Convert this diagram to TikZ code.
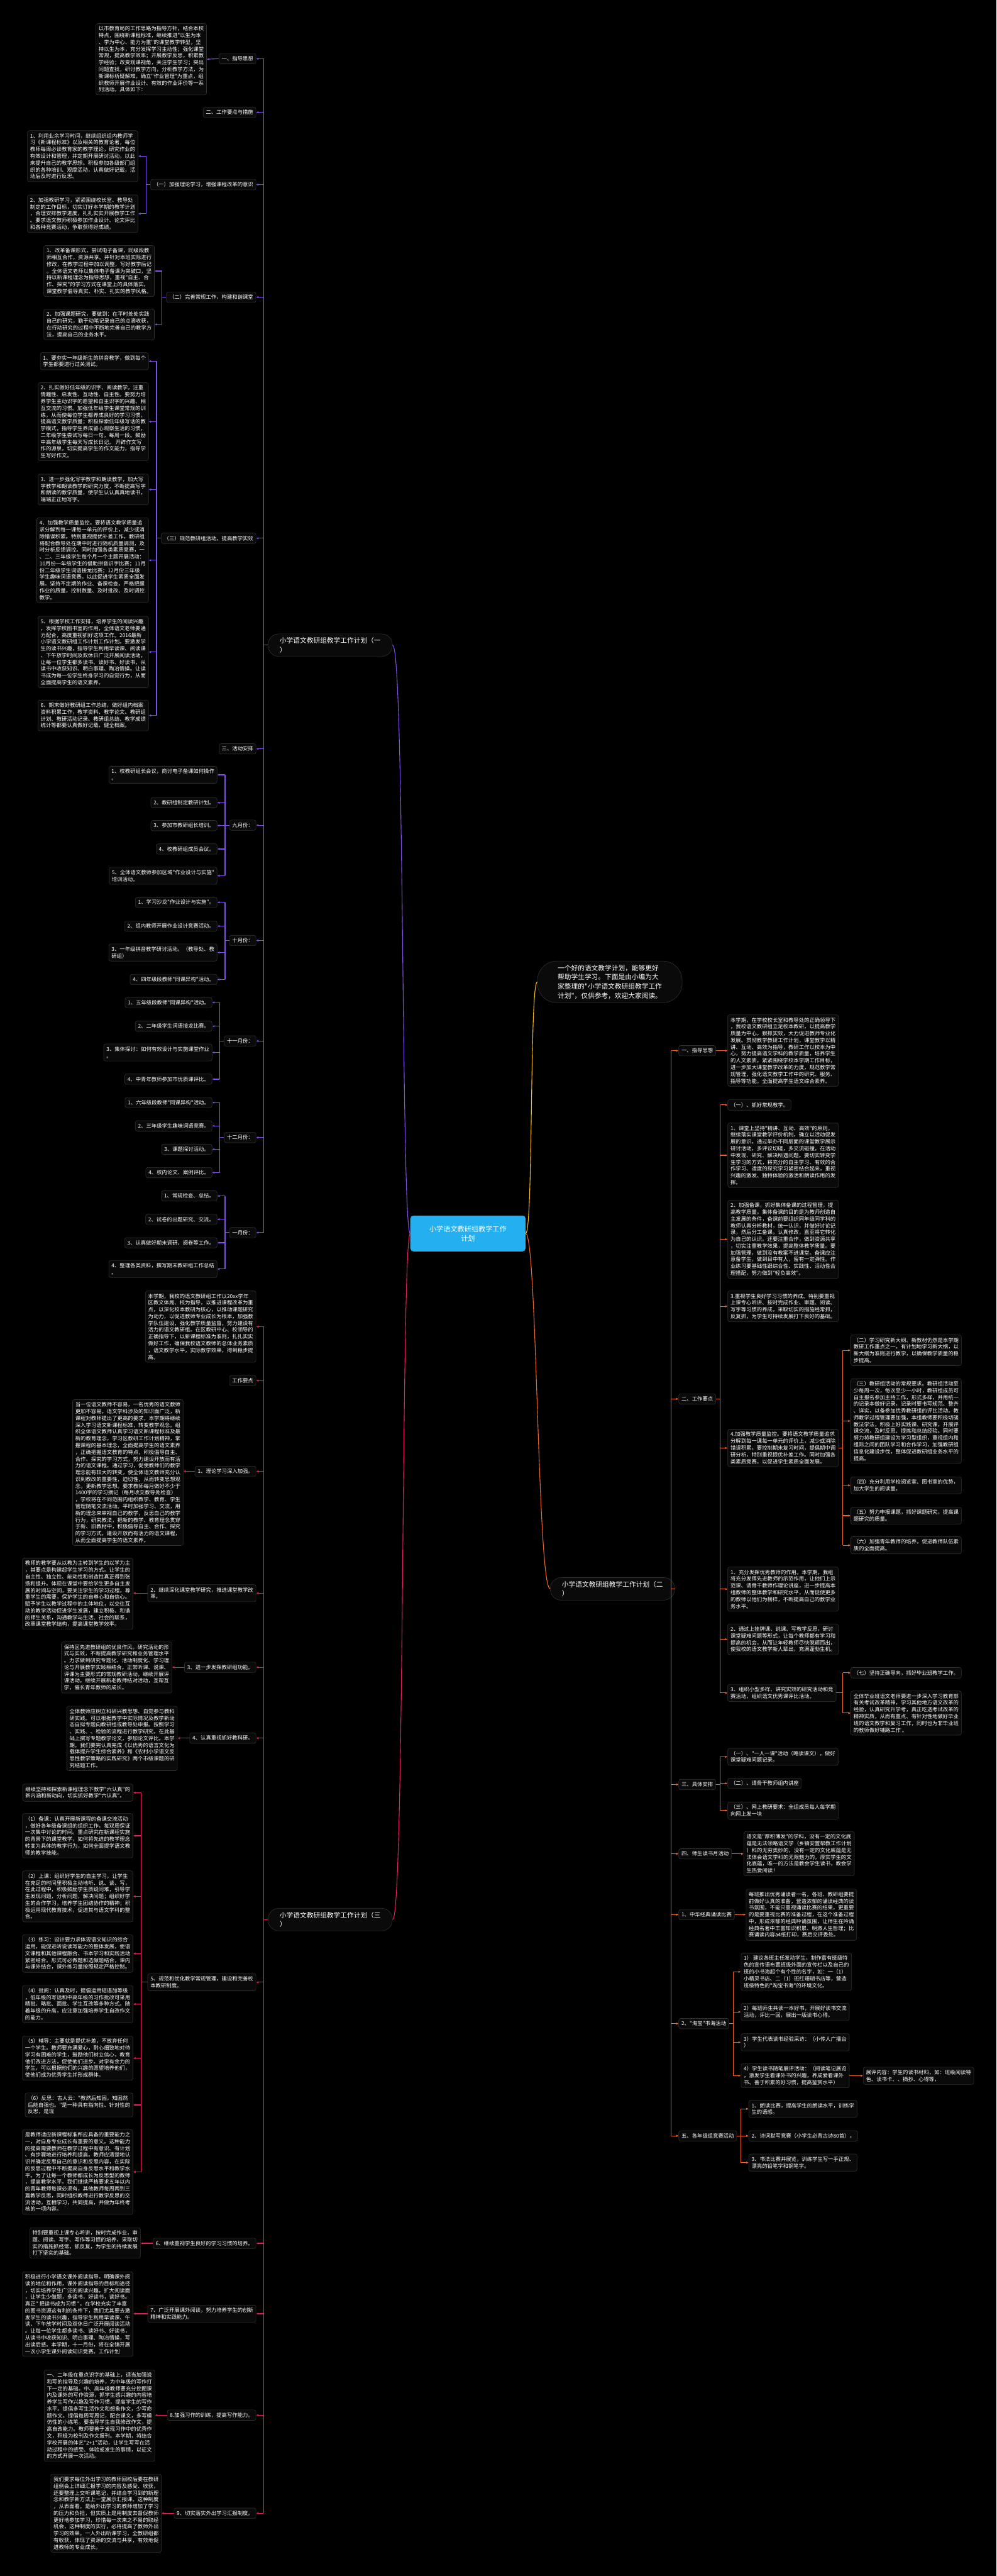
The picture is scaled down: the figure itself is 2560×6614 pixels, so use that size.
\documentclass[tikz,border=0pt]{standalone}
\usepackage{fontspec}
\newfontfamily\cjk{Noto Sans CJK SC}
\usetikzlibrary{arrows.meta}
\definecolor{purp}{RGB}{128,78,232}
\definecolor{pinkc}{RGB}{232,28,98}
\definecolor{orng}{RGB}{240,100,40}
\definecolor{goldc}{RGB}{245,185,20}
\definecolor{boxbd}{RGB}{48,48,48}
\definecolor{boxfl}{RGB}{10,10,10}
\definecolor{rootc}{RGB}{36,176,240}
\tikzset{
 tbox/.style={draw=boxbd, fill=boxfl, rounded corners=5pt, line width=1pt, text=white, font=\cjk\fontsize{13.5}{17.4}\selectfont, align=left, inner xsep=7pt, inner ysep=7pt},
 pillbox/.style={draw=boxbd, fill=boxfl, rounded corners=28pt, line width=1pt, text=white, font=\cjk\fontsize{17.3}{23.5}\selectfont, align=left, inner xsep=30pt, inner ysep=9pt},
 rootbox/.style={fill=rootc, rounded corners=8pt, text=white, font=\cjk\fontsize{18}{24}\selectfont, align=center, inner xsep=14pt, inner ysep=12pt},
 link/.style={line width=1.8pt},
 arr/.style={line width=1.8pt,-{Latex[length=6pt,width=6pt]}},
}
\begin{document}
\begin{tikzpicture}[x=1pt,y=-1pt]
\fill[black] (0,0) rectangle (2560,6614);
\useasboundingbox (0,0) rectangle (2560,6614);

% ================= ROOT =================
\node[rootbox,minimum width=296pt,minimum height=92pt] (R) at (1202,3167) {小学语文教研组教学工作\\计划};

% ================= (一) =================
\node[pillbox,anchor=north west] (P1) at (688,1627) {小学语文教研组教学工作计划（一\\）};
\node[tbox,anchor=north east] (A1) at (658,137) {一、指导思想};
\node[tbox,anchor=north east] (A1t) at (531,60) {以市教育局的工作思路为指导方针，结合本校\\特点，围绕新课程标准，继续推进"以生为本\\、学为中心、能力为重"的课堂教学转型，坚\\持以生为本，充分发挥学习主动性；强化课堂\\常规，提高教学效率；开展教学反思，积累教\\学经验；改变观课视角，关注学生学习；突出\\问题查找，研讨教学方向，分析教学方法，为\\新课标析疑解难。确立"作业管理"为重点，组\\织教师开展作业设计、有效的作业评价等一系\\列活动。具体如下：};
\node[tbox,anchor=north east] (A2) at (658,275) {二、工作要点与措施};
\node[tbox,anchor=north east] (A3) at (658,460) {（一）加强理论学习，增强课程改革的意识};
\node[tbox,anchor=north east] (A31) at (355,335) {1、利用业余学习时间，继续组织组内教师学\\习《新课程标准》以及相关的教育论著，每位\\教师每周必读教育家的教学理论，研究作业的\\有效设计和管理，并定期开展研讨活动，以此\\来提升自己的教学思想。积极参加各级部门组\\织的各种培训、观摩活动，认真做好记载，活\\动后及时进行反思。};
\node[tbox,anchor=north east] (A32) at (355,500) {2、加强教研学习，紧紧围绕校长室、教导处\\制定的工作目标，切实订好本学期的教学计划\\，合理安排教学进度，扎扎实实开展教学工作\\。要求语文教师积极参加作业设计、论文评比\\和各种竞赛活动，争取获得好成绩。};
\node[tbox,anchor=north east] (A4) at (658,749) {（二）完善常规工作，构建和谐课堂};
\node[tbox,anchor=north east] (A41) at (397,630) {1、改革备课形式，尝试电子备课，同级段教\\师相互合作，资源共享。并针对本班实际进行\\修改，在教学过程中加以调整，写好教学后记\\。全体语文老师以集体电子备课为突破口，坚\\持以新课程理念为指导思想，重视"自主、合\\作、探究"的学习方式在课堂上的具体落实。\\课堂教学倡导真实、朴实、扎实的教学风格。};
\node[tbox,anchor=north east] (A42) at (397,793) {2、加强课题研究，要做到：在平时处处实践\\自己的研究，勤于动笔记录自己的点滴收获，\\在行动研究的过程中不断地完善自己的教学方\\法，提高自己的业务水平。};
\node[tbox,anchor=north east] (A5) at (658,1368) {（三）规范教研组活动，提高教学实效};
\node[tbox,anchor=north east] (A51) at (382,905) {1、要夯实一年级新生的拼音教学，做到每个\\学生都要进行过关测试。};
\node[tbox,anchor=north east] (A52) at (382,982) {2、扎实做好低年级的识字、阅读教学，注重\\情趣性、启发性、互动性、自主性。要努力培\\养学生主动识字的愿望和自主识字的兴趣、相\\互交流的习惯。加强低年级学生课堂常规的训\\练，从而使每位学生都养成良好的学习习惯，\\提高语文教学质量；积极探索低年级写话的教\\学模式，指导学生养成留心观察生活的习惯，\\二年级学生尝试写每日一句，每周一段。鼓励\\中高年级学生每天写成长日记。 开辟作文写\\作的源泉，切实提高学生的作文能力，指导学\\生写好作文。};
\node[tbox,anchor=north east] (A53) at (382,1217) {3、进一步强化写字教学和朗读教学，加大写\\字教学和朗读教学的研究力度，不断提高写字\\和朗读的教学质量，使学生认认真真地读书，\\端端正正地写字。};
\node[tbox,anchor=north east] (A54) at (382,1329) {4、加强教学质量监控。要将语文教学质量追\\求分解到每一课每一单元的评价上，减少或消\\除错误积累。特别重视提优补差工作。教研组\\将配合教导处在期中时进行随机质量调测，及\\时分析反馈调控。同时加强各类素质竞赛，一\\、二、三年级学生每个月一个主题开展活动：\\10月份一年级学生的借助拼音识字比赛；11月\\份二年级学生词语接龙比赛；12月份三年级\\学生趣味词语竞赛。以此促进学生素质全面发\\展。坚持不定期的作业、备课检查。严格把握\\作业的质量，控制数量、及时批改、及时调控\\教学。};
\node[tbox,anchor=north east] (A55) at (382,1582) {5、根据学校工作安排，培养学生的阅读兴趣\\，发挥学校图书室的作用，全体语文老师要通\\力配合，高度重视抓好这项工作。2016最新\\小学语文教研组工作计划工作计划。要激发学\\生的读书兴趣，指导学生利用早读课、阅读课\\、下午放学时间及双休日广泛开展阅读活动。\\让每一位学生都多读书、读好书、好读书，从\\读书中收获知识、明白事理、陶冶情操。让读\\书成为每一位学生终身学习的自觉行为，从而\\全面提高学生的语文素养。};
\node[tbox,anchor=north east] (A56) at (382,1797) {6、期末做好教研组工作总结，做好组内档案\\资料积累工作，教学资料、教学论文、教研组\\计划、教研活动记录、教研组总结、教学成绩\\统计等都要认真做好记载，健全档案。};
\node[tbox,anchor=north east] (A6) at (658,1909) {三、活动安排};
\node[tbox,anchor=north east] (A7) at (658,2105) {九月份：};
\node[tbox,anchor=north east] (A71) at (558,1967) {1、校教研组长会议，商讨电子备课如何操作\\。};
\node[tbox,anchor=north east] (A72) at (558,2047) {2、教研组制定教研计划。};
\node[tbox,anchor=north east] (A73) at (558,2106) {3、参加市教研组长培训。};
\node[tbox,anchor=north east] (A74) at (558,2166) {4、校教研组成员会议。};
\node[tbox,anchor=north east] (A75) at (558,2226) {5、全体语文教师参加区域"作业设计与实施"\\培训活动。};
\node[tbox,anchor=north east] (A8) at (658,2401) {十月份：};
\node[tbox,anchor=north east] (A81) at (558,2303) {1、学习沙龙"作业设计与实施"。};
\node[tbox,anchor=north east] (A82) at (558,2364) {2、组内教师开展作业设计竞赛活动。};
\node[tbox,anchor=north east] (A83) at (558,2423) {3、一年级拼音教学研讨活动。（教导处、教\\研组）};
\node[tbox,anchor=north east] (A84) at (558,2501) {4、四年级段教师"同课异构"活动。};
\node[tbox,anchor=north east] (A9) at (658,2659) {十一月份：};
\node[tbox,anchor=north east] (A91) at (545,2560) {1、五年级段教师"同课异构"活动。};
\node[tbox,anchor=north east] (A92) at (545,2621) {2、二年级学生词语接龙比赛。};
\node[tbox,anchor=north east] (A93) at (545,2680) {3、集体探讨：如何有效设计与实施课堂作业\\。};
\node[tbox,anchor=north east] (A94) at (545,2757) {4、中青年教师参加市优质课评比。};
\node[tbox,anchor=north east] (A10) at (658,2907) {十二月份：};
\node[tbox,anchor=north east] (A101) at (545,2817) {1、六年级段教师"同课异构"活动。};
\node[tbox,anchor=north east] (A102) at (545,2877) {2、三年级学生趣味词语竞赛。};
\node[tbox,anchor=north east] (A103) at (545,2937) {3、课题探讨活动。};
\node[tbox,anchor=north east] (A104) at (545,2997) {4、校内论文、案例评比。};
\node[tbox,anchor=north east] (A11) at (658,3151) {一月份：};
\node[tbox,anchor=north east] (A111) at (558,3057) {1、常规检查、总结。};
\node[tbox,anchor=north east] (A112) at (558,3117) {2、试卷的出题研究、交流。};
\node[tbox,anchor=north east] (A113) at (558,3177) {3、认真做好期末调研、阅卷等工作。};
\node[tbox,anchor=north east] (A114) at (558,3236) {4、整理各类资料，撰写期末教研组工作总结\\。};

\coordinate (mA) at (677,0);
\coordinate (bA3) at (376,0);
\coordinate (bA4) at (416,0);
\coordinate (bA5) at (402,0);
\coordinate (bA7) at (578,0);
\coordinate (bA9) at (564,0);
\begin{scope}[purp]
\draw[link] (mA |- A1.east) -- (mA |- A11.east);
\foreach \n in {A1,A2,A3,A4,A5,A6,A7,A8,A9,A10,A11} \draw[arr] (mA |- \n.east) -- (\n.east);
\draw[link] (mA |- P1.west) -- (P1.west);
\draw[arr] (A1.west) -- (A1t.east);
\draw[link] (A3.west) -- (bA3 |- A3.west);
\draw[link] (bA3 |- A31.east) -- (bA3 |- A32.east);
\foreach \n in {A31,A32} \draw[arr] (bA3 |- \n.east) -- (\n.east);
\draw[link] (A4.west) -- (bA4 |- A4.west);
\draw[link] (bA4 |- A41.east) -- (bA4 |- A42.east);
\foreach \n in {A41,A42} \draw[arr] (bA4 |- \n.east) -- (\n.east);
\draw[link] (A5.west) -- (bA5 |- A5.west);
\draw[link] (bA5 |- A51.east) -- (bA5 |- A56.east);
\foreach \n in {A51,A52,A53,A54,A55,A56} \draw[arr] (bA5 |- \n.east) -- (\n.east);
\draw[link] (A7.west) -- (bA7 |- A7.west);
\draw[link] (bA7 |- A71.east) -- (bA7 |- A75.east);
\foreach \n in {A71,A72,A73,A74,A75} \draw[arr] (bA7 |- \n.east) -- (\n.east);
\draw[link] (A8.west) -- (bA7 |- A8.west);
\draw[link] (bA7 |- A81.east) -- (bA7 |- A84.east);
\foreach \n in {A81,A82,A83,A84} \draw[arr] (bA7 |- \n.east) -- (\n.east);
\draw[link] (A9.west) -- (bA9 |- A9.west);
\draw[link] (bA9 |- A91.east) -- (bA9 |- A94.east);
\foreach \n in {A91,A92,A93,A94} \draw[arr] (bA9 |- \n.east) -- (\n.east);
\draw[link] (A10.west) -- (bA9 |- A10.west);
\draw[link] (bA9 |- A101.east) -- (bA9 |- A104.east);
\foreach \n in {A101,A102,A103,A104} \draw[arr] (bA9 |- \n.east) -- (\n.east);
\draw[link] (A11.west) -- (bA7 |- A11.west);
\draw[link] (bA7 |- A111.east) -- (bA7 |- A114.east);
\foreach \n in {A111,A112,A113,A114} \draw[arr] (bA7 |- \n.east) -- (\n.east);
\end{scope}

% ================= (三) =================
\node[pillbox,anchor=north west] (P3) at (688,4899) {小学语文教研组教学工作计划（三\\）};
\node[tbox,anchor=north east] (B1) at (658,3314) {本学期，我校的语文教研组工作以20xx学年\\区教文体局、校为指导，以推进课程改革为重\\点，以深化校本教研为核心，以推动课题研究\\为动力，以促进教师专业成长为根本，加强教\\学队伍建设，强化教学质量监督，努力建设有\\活力的语文教研组。在区教研中心、校领导的\\正确指导下，以新课程标准为准则，扎扎实实\\做好工作，确保我校语文教师的总体业务素质\\，语文教学水平，实际教学效果，得到稳步提\\高。};
\node[tbox,anchor=north east] (B2) at (658,3531) {工作要点};
\node[tbox,anchor=north east] (B3) at (658,3764) {1、理论学习深入加强。};
\node[tbox,anchor=north east] (B3t) at (471,3593) {当一位语文教师不容易，一名优秀的语文教师\\更加不容易。语文学科涉及的知识面广泛，新\\课程对教师提出了更高的要求，本学期将继续\\深入学习语文新课程标准，转变教学观念。组\\织全体语文教师认真学习语文新课程标准及最\\新的教育理念，学习区教研工作计划精神，掌\\握课程的基本理念，全面提高学生的语文素养\\，正确把握语文教育的特点，积极倡导自主、\\合作、探究的学习方式，努力建设开放而有活\\力的语文课程。通过学习，促使教师们的教学\\理念能有较大的转变，使全体语文教师充分认\\识到教改的重要性，迫切性，从而转变思想观\\念，更新教学思想。要求教师每月做好不少于\\1400字的学习摘记（每月收交教导处检查）\\，学校将在不同范围内组织教学、教育、学生\\管理随笔交流活动。平时加强学习、交流，用\\新的理念来审视自己的教学，反思自己的教学\\行为，研究教法，把新的教学、教育理念贯穿\\于新、旧教材中，积极倡导自主、合作、探究\\的学习方式，建设开放而有活力的语文课程，\\从而全面提高学生的语文素养。};
\node[tbox,anchor=north east] (B4) at (658,4068) {2、继续深化课堂教学研究，推进课堂教学改\\革。};
\node[tbox,anchor=north east] (B4t) at (342,4000) {教师的教学要从以教为主转到学生的以学为主\\，其要点是构建起学生学习的方式。让学生的\\自主性、独立性、能动性和创造性真正得到张\\扬和提升。体现在课堂中要给学生更多自主发\\展的时间与空间，要关注学生的学习过程，尊\\重学生的需要，保护学生的自尊心和自信心。\\赋予学生以教学过程中的主体地位，以交往互\\动的教学活动促进学生发展，建立积极、和谐\\的师生关系，沟通教学与生活、社会的联系，\\改革课堂教学结构，提高课堂教学效率。};
\node[tbox,anchor=north east] (B5) at (658,4267) {3、进一步发挥教研组功能。};
\node[tbox,anchor=north east] (B5t) at (442,4215) {保持区先进教研组的优良作风。研究活动的形\\式与实效，不断提高教学研究和业务管理水平\\。力求做到研究专题化、活动制度化、学习理\\论与开展教学实践相结合。正常听课、说课、\\评课为主要形式的常规教研活动，继续开展评\\课活动，继续开展新老教师结对活动，互帮互\\学，催长青年教师的成长。};
\node[tbox,anchor=north east] (B6) at (658,4449) {4、认真重视抓好教科研。};
\node[tbox,anchor=north east] (B6t) at (456,4380) {全体教师应树立科研兴教思想、自觉参与教科\\研实践。可以根据教学中实际情况及教学新动\\态自拟专题向教研组或教导处申报。按照学习\\、实践、、检验的流程进行教学研究。在此基\\础上撰写专题教学论文，参加论文评比。本学\\期，我们要完认真完成《以优秀的语言文化为\\载体提升学生综合素养》和《农村小学语文反\\思性教学策略的实践研究》两个市级课题的研\\究结题工作。};
\node[tbox,anchor=north east] (B7) at (658,5067) {5、规范和优化教学常规管理，建设和完善校\\本教研制度。};
\node[tbox,anchor=north east] (B71) at (342,4580) {继续坚持和探索新课程理念下教学"六认真"的\\新内涵和新动向，切实抓好教学"六认真"。};
\node[tbox,anchor=north east] (B72) at (342,4656) {（1）备课：认真开展新课程的备课交流活动\\，做好各年级备课组的组织工作，每双周保证\\一次集中讨论的时间。重点研究在新课程实施\\的背景下的课堂教学，如何将先进的教学理念\\转变为具体的教学行为，如何全面提学语文教\\师的教学技能。};
\node[tbox,anchor=north east] (B73) at (342,4803) {（2）上课：组织好学生的自主学习，让学生\\在充足的时间里积极主动地听、说、读、写，\\在此过程中，积极鼓励学生质疑问难，引导学\\生发现问题，分析问题，解决问题；组织好学\\生的合作学习，培养学生团结协作的精神；积\\极运用现代教育技术，促进其与语文学科的整\\合。};
\node[tbox,anchor=north east] (B74) at (342,4967) {（3）练习：设计要力求体现语文知识的综合\\运用，能促进听说读写能力的整体发展，使语\\文课程和其他课程融合、书本学习和实践活动\\紧密结合。形式可必做题和选做题结合，课内\\与课外结合，课外练习量按照规定严格控制。};
\node[tbox,anchor=north east] (B75) at (342,5097) {（4）批阅：认真及时，提倡运用短语加等级\\，低年级的写话和中高年级的习作批改可采用\\精批、略批、面批、学生互改等多种方式。随\\着年级的升高，应注意加强培养学生自改作文\\的能力。};
\node[tbox,anchor=north east] (B76) at (342,5227) {（5）辅导：主要就是提优补差，不放弃任何\\一个学生。教师要充满爱心，耐心细致地对待\\学习有困难的学生，鼓励他们树立信心，教育\\他们改进方法，促使他们进步。对学有余力的\\学生，可以根据他们的兴趣的愿望培养他们，\\使他们成为优秀学生并形成群体。};
\node[tbox,anchor=north east] (B77) at (342,5373) {（6）反思：古人云："教然后知困，知困然\\后能自强也。"是一种具有指向性、针对性的\\反思，是现};
\node[tbox,anchor=north east] (B78) at (342,5467) {是教师适应新课程标准所应具备的重要能力之\\一，对自身专业成长有重要的意义。这种能力\\的提高需要教师在教学过程中有意识、有计划\\、有步骤地进行培养和提高。教师应清楚地认\\识并确定反思自己的意识和反思内容，在实际\\的反思过程中不断提高自身反思水平和教学水\\平。为了让每一个教师都成长为反思型的教师\\，提高教学水平。我们继续严格要求五年以内\\的青年教师每课必须有，其他教师每周两到三\\篇教学反思，同时组织教师进行教学反思的交\\流活动，互相学习，共同提高，并做为年终考\\核的一项内容。};
\node[tbox,anchor=north east] (B8) at (658,5746) {6、继续重视学生良好的学习习惯的培养。};
\node[tbox,anchor=north east] (B8t) at (361,5719) {特别要重视上课专心听讲，按时完成作业，审\\题、阅读、写字、写作等习惯的培养，采取切\\实的措施抓经常，抓反复，为学生的持续发展\\打下坚实的基础。};
\node[tbox,anchor=north east] (B9) at (658,5918) {7、广泛开展课外阅读，努力培养学生的创新\\精神和实践能力。};
\node[tbox,anchor=north east] (B9t) at (342,5832) {积极进行小学语文课外阅读指导，明确课外阅\\读的地位和作用，课外阅读指导的目标和途径\\，切实培养学生广泛的阅读兴趣，扩大阅读面\\，让学生少做题，多读书，好读书，读好书。\\真正" 把读书成为习惯 "。在学校充实了丰富\\的图书资源这有利的条件下，我们尤其要去激\\发学生的读书兴趣，指导学生利用早读课、午\\读、下午放学时间及双休日广泛开展阅读活动\\。让每一位学生都多读书、读好书、好读书，\\从读书中收获知识、明白事理、陶冶情操，写\\出读后感。本学期，十一月份，将在全镇开展\\一次小学生课外阅读知识竞赛。工作计划};
\node[tbox,anchor=north east] (B10) at (658,6187) {8.加强习作的训练，提高写作能力。};
\node[tbox,anchor=north east] (B10t) at (398,6084) {一、二年级在重点识字的基础上，适当加强说\\和写的指导及兴趣的培养，为中年级的写作打\\下一定的基础。中、高年级教师要充分挖掘课\\内及课外的写作资源，抓学生感兴趣的内容培\\养学生写作兴趣及写作习惯，提高学生的写作\\水平。提倡多写生活作文和想象作文，少写命\\题作文。提倡每周写周记，配合课文，多写模\\仿性的小练笔。要指导学生自我修改作文，提\\高自改能力。教师要善于发现习作中的优秀作\\文，积极为校刊及作文报刊。本学期，将结合\\学校开展的体艺"2+1"活动，让学生写写在活\\动过程中的感受、体验或发生的事情，以征文\\的方式开展一次活动。};
\node[tbox,anchor=north east] (B11) at (658,6439) {9、切实落实外出学习汇报制度。};
\node[tbox,anchor=north east] (B11t) at (415,6352) {我们要求每位外出学习的教师回校后要在教研\\组例会上详细汇报学习的内容及感受、收获，\\还要整理上交听课笔记，并结合学习到的新理\\念和教学新方法上一堂展示汇报课。这种制度\\，从表面看，是给外出学习的教师增加了学习\\的压力和负担，但实质上是用制度去督促教师\\更好地参加学习，珍惜每一次来之不易的取经\\机会，这种制度的实行，必将提高了教师外出\\学习的效果，一人外出听课学习，全教研组都\\有收获，体现了资源的交流与共享，有效地促\\进教师的专业成长。};

\coordinate (bB7) at (362,0);
\begin{scope}[pinkc]
\draw[link] (mA |- B1.east) -- (mA |- B11.east);
\foreach \n in {B1,B2,B3,B4,B5,B6,B7,B8,B9,B10,B11} \draw[arr] (mA |- \n.east) -- (\n.east);
\draw[link] (mA |- P3.west) -- (P3.west);
\foreach \a/\b in {B3/B3t,B4/B4t,B5/B5t,B6/B6t,B8/B8t,B9/B9t,B10/B10t,B11/B11t} \draw[arr] (\a.west) -- (\a.west -| \b.east);
\draw[link] (B7.west) -- (bB7 |- B7.west);
\draw[link] (bB7 |- B71.east) -- (bB7 |- B78.east);
\foreach \n in {B71,B72,B73,B74,B75,B76,B77,B78} \draw[arr] (bB7 |- \n.east) -- (\n.east);
\end{scope}

% ================= (二) =================
\node[pillbox,anchor=north west,rounded corners=50pt,inner xsep=52pt,inner ysep=10pt] (I) at (1380,2467) {一个好的语文教学计划，能够更好\\帮助学生学习。下面是由小编为大\\家整理的"小学语文教研组教学工作\\计划"，仅供参考，欢迎大家阅读。};
\node[pillbox,anchor=north west] (P2) at (1413,4050) {小学语文教研组教学工作计划（二\\）};
\node[tbox,anchor=north west] (C1) at (1743,2684) {一、指导思想};
\node[tbox,anchor=north west] (C1t) at (1869,2605) {本学期，在学校校长室和教导处的正确领导下\\，我校语文教研组立足校本教研，以提高教学\\质量为中心，狠抓实效，大力促进教师专业化\\发展。贯彻教学教研工作计划，课堂教学以精\\讲、互动、高效为指导，教研工作以校本为中\\心，努力提高语文学科的教学质量，培养学生\\的人文素质。紧紧围绕学校本学期工作目标，\\进一步加大课堂教学改革的力度，规范教学常\\规管理，强化语文教学工作中的研究、服务、\\指导等功能，全面提高学生语文综合素养。};
\node[tbox,anchor=north west] (C2) at (1743,3578) {二、工作要点};
\node[tbox,anchor=north west] (C21) at (1869,2823) {（一）、抓好常规教学。};
\node[tbox,anchor=north west] (C22) at (1869,2883) {1、课堂上坚持"精讲、互动、高效"的原则，\\继续落实课堂教学评价机制，确立以活动促发\\展的意识。通过举办不同层面的课堂教学展示\\研讨活动，多评议切磋，多交流碰撞，在活动\\中发现、研究、解决所遇问题。要切实转变学\\生学习的方式，将充分的自主学习、有效的合\\作学习、适度的探究学习紧密结合起来，重视\\兴趣的激发、独特体验的激活和朗读作用的发\\挥。};
\node[tbox,anchor=north west] (C23) at (1869,3081) {2、加强备课，抓好集体备课的过程管理，提\\高教学质量。集体备课的目的是为教师创造自\\主发展的条件，备课前要组织同年级同学科的\\教师认真分析教材，统一认识，并做好讨论记\\录，然后分工备课，认真修改，直至将它转化\\为自己的认识。还要注重合作，做到资源共享\\，切实注重教学效果，提高整体教学质量。要\\加强管理，做到没有教案不进课堂。备课应注\\意备学生，做到目中有人，留有一定弹性。作\\业练习要基础性跟综合性、实践性、活动性合\\理搭配，努力做到"轻负高效"。};
\node[tbox,anchor=north west] (C24) at (1869,3314) {3.重视学生良好学习习惯的养成。特别要重视\\上课专心听讲、按时完成作业、审题、阅读、\\写字等习惯的养成，采取切实的措施经常抓，\\反复抓，为学生可持续发展打下良好的基础。};
\node[tbox,anchor=north west] (C25) at (1869,3669) {4.加强教学质量监控。要将语文教学质量追求\\分解到每一课每一单元的评价上，减少或消除\\错误积累。要控制期末复习时间，提倡期中调\\研分析，特别重视提优补差工作。同时加强各\\类素质竞赛，以促进学生素质全面发展。};
\node[tbox,anchor=north west] (C251) at (2185,3427) {（二）学习研究新大纲、新教材仍然是本学期\\教研工作重点之一。有计划地学习新大纲，以\\新大纲为准则进行教学，以确保教学质量的稳\\步提高。};
\node[tbox,anchor=north west] (C252) at (2185,3539) {（三）教研组活动的常规要求。教研组活动至\\少每周一次，每次至少一小时，教研组成员可\\自主报名参加主持工作，形式多样，并用统一\\的记录本做好记录，记录时要书写规范、整齐\\、详实，以备参加优秀教研组的评比活动。教\\师教学过程管理要加强，本组教师要积极切磋\\教法学法，积极上好实践课、研究课，开展评\\课交流，及时反思、提炼和总结经验。同时要\\努力将教研组建设为学习型组织，重视组内和\\组际之间的团队学习和合作学习，加强教研组\\信息化建设步伐，整体促进教研组业务水平的\\提高。};
\node[tbox,anchor=north west] (C253) at (2185,3791) {（四）充分利用学校阅览室、图书室的优势，\\加大学生的阅读量。};
\node[tbox,anchor=north west] (C254) at (2185,3869) {（五）努力申报课题，抓好课题研究，提高课\\题研究的质量。};
\node[tbox,anchor=north west] (C255) at (2185,3945) {（六）加强青年教师的培养，促进教师队伍素\\质的全面提高。};
\node[tbox,anchor=north west] (C26) at (1869,4023) {1、充分发挥优秀教师的作用。本学期，我组\\将充分发挥先进教师的示范作用，让他们上示\\范课、请骨干教师作理论讲座，进一步提高本\\组教师的整体教学和研究水平，从而促使更多\\的教师以他们为榜样，不断提高自己的教学业\\务水平。};
\node[tbox,anchor=north west] (C27) at (1869,4169) {2、通过上挂牌课、说课、写教学反思，研讨\\课堂疑难问题等形式，让每个教师都有学习和\\提高的机会，从而让年轻教师尽快脱颖而出，\\使我校的语文教学新人辈出，充满蓬勃生机。};
\node[tbox,anchor=north west] (C28) at (1869,4324) {3、组织小型多样、讲究实效的研究活动和竞\\赛活动，组织语文优秀课评比活动。};
\node[tbox,anchor=north west] (C281) at (2185,4281) {（七）坚持正确导向，抓好毕业班教学工作。};
\node[tbox,anchor=north west] (C282) at (2185,4341) {全体毕业班语文老师要进一步深入学习教育部\\有关考试改革精神，学习其他地方语文改革的\\经验，认真研究升学考，真正吃透考试改革的\\精神实质，从而有重点、有针对性地做好毕业\\班的语文教学和复习工作，同时也为非毕业班\\的教师做好铺路工作 。};
\node[tbox,anchor=north west] (C3) at (1743,4568) {三、具体安排};
\node[tbox,anchor=north west] (C31) at (1869,4488) {（一）、"一人一课"活动（略读课文），做好\\课堂疑难问题记录。};
\node[tbox,anchor=north west] (C32) at (1869,4565) {（二）、请骨干教师组内讲座};
\node[tbox,anchor=north west] (C33) at (1869,4626) {（三）、网上教研要求：全组成员每人每学期\\向网上发一块};
\node[tbox,anchor=north west] (C4) at (1743,4746) {四、师生读书月活动};
\node[tbox,anchor=north west] (C4t) at (1910,4702) {语文是"厚积薄发"的学科，没有一定的文化底\\蕴是无法领略语文学（乡镇安置帮教工作计划\\）科的无穷奥妙的，没有一定的文化底蕴是无\\法体会语文学科的无限魅力的。厚实学生的文\\化底蕴，唯一的方法是教会学生读书，教会学\\生热爱阅读！};
\node[tbox,anchor=north west] (C5) at (1743,4902) {1、中华经典诵读比赛};
\node[tbox,anchor=north west] (C5t) at (1916,4850) {每班推出优秀诵读者一名，各班、教研组要提\\前做好认真的准备，营造浓郁的诵读经典的读\\书氛围，不能只重视诵读比赛的结果，更重要\\的是要重视比赛的准备过程，在这个准备过程\\中，形成浓郁的经典吟诵氛围，让师生在吟诵\\经典名著中丰富知识积累、明澈人生哲理；比\\赛诵读内容a4纸打印，赛后交评委处。};
\node[tbox,anchor=north west] (C6) at (1743,5182) {2、"淘宝"书海活动};
\node[tbox,anchor=north west] (C61) at (1903,5014) {1） 建议各班主任发动学生，制作富有班级特\\色的宣传语布置班级外面的宣传栏以及自己的\\班的小书海起个有个性的名字，如：一（1）\\小精灵书店、二（1）班红珊瑚书店等，营造\\班级特色的"淘宝书海"的环境文化。};
\node[tbox,anchor=north west] (C62) at (1903,5143) {2）每班师生共读一本好书，开展好读书交流\\活动，评比一回，展出一版读书心得。};
\node[tbox,anchor=north west] (C63) at (1903,5221) {3）学生代表读书经验采访：（小传人广播台\\）};
\node[tbox,anchor=north west] (C64) at (1903,5298) {4）学生读书随笔展评活动：（阅读笔记展览\\，激发学生看课外书的兴趣，养成爱看课外\\书、善于积累的好习惯，提高鉴赏水平）};
\node[tbox,anchor=north west] (C64t) at (2217,5307) {展评内容：学生的读书材料，如：班级阅读特\\色、读书卡、、摘抄、心得等，};
\node[tbox,anchor=north west] (C7) at (1743,5470) {五、各年级组竞赛活动};
\node[tbox,anchor=north west] (C71) at (1923,5392) {1、朗读比赛，提高学生的朗读水平，训练学\\生的语感。};
\node[tbox,anchor=north west] (C72) at (1923,5470) {2、诗词默写竞赛（小学生必背古诗80首）。};
\node[tbox,anchor=north west] (C73) at (1923,5530) {3、书法比赛并展览，训练学生写一手正规、\\漂亮的铅笔字和钢笔字。};

\coordinate (mC) at (1724,0);
\coordinate (bC) at (1850,0);
\coordinate (bC2) at (2165,0);
\coordinate (bC6) at (1883,0);
\coordinate (bC7) at (1903,0);
\begin{scope}[orng]
\draw[link] (mC |- C1.west) -- (mC |- C7.west);
\foreach \n in {C1,C2,C3,C4,C5,C6,C7} \draw[arr] (mC |- \n.west) -- (\n.west);
\draw[link] (P2.east) -- (mC |- P2.east);
\draw[arr] (C1.east) -- (C1.east -| C1t.west);
\draw[arr] (C4.east) -- (C4.east -| C4t.west);
\draw[arr] (C5.east) -- (C5.east -| C5t.west);
\draw[link] (C2.east) -- (bC |- C2.east);
\draw[link] (bC |- C21.west) -- (bC |- C28.west);
\foreach \n in {C21,C22,C23,C24,C25,C26,C27,C28} \draw[arr] (bC |- \n.west) -- (\n.west);
\draw[link] (C25.east) -- (bC2 |- C25.east);
\draw[link] (bC2 |- C251.west) -- (bC2 |- C255.west);
\foreach \n in {C251,C252,C253,C254,C255} \draw[arr] (bC2 |- \n.west) -- (\n.west);
\draw[link] (C28.east) -- (bC2 |- C28.east);
\draw[link] (bC2 |- C281.west) -- (bC2 |- C282.west);
\foreach \n in {C281,C282} \draw[arr] (bC2 |- \n.west) -- (\n.west);
\draw[link] (C3.east) -- (bC |- C3.east);
\draw[link] (bC |- C31.west) -- (bC |- C33.west);
\foreach \n in {C31,C32,C33} \draw[arr] (bC |- \n.west) -- (\n.west);
\draw[link] (C6.east) -- (bC6 |- C6.east);
\draw[link] (bC6 |- C61.west) -- (bC6 |- C64.west);
\foreach \n in {C61,C62,C63,C64} \draw[arr] (bC6 |- \n.west) -- (\n.west);
\draw[arr] (C64.east) -- (C64.east -| C64t.west);
\draw[link] (C7.east) -- (bC7 |- C7.east);
\draw[link] (bC7 |- C71.west) -- (bC7 |- C73.west);
\foreach \n in {C71,C72,C73} \draw[arr] (bC7 |- \n.west) -- (\n.west);
\end{scope}

% ================= root links =================
\draw[link,purp] (R.west) .. controls (1030,3167) and (1040,1659) .. (P1.east);
\draw[link,pinkc] (R.west) .. controls (1030,3167) and (1040,4930) .. (P3.east);
\draw[link,orng] (R.east) .. controls (1380,3167) and (1380,4072) .. (P2.west);
\draw[link,goldc] (R.east) .. controls (1370,3167) and (1360,2522) .. (I.west);
\end{tikzpicture}
\end{document}
